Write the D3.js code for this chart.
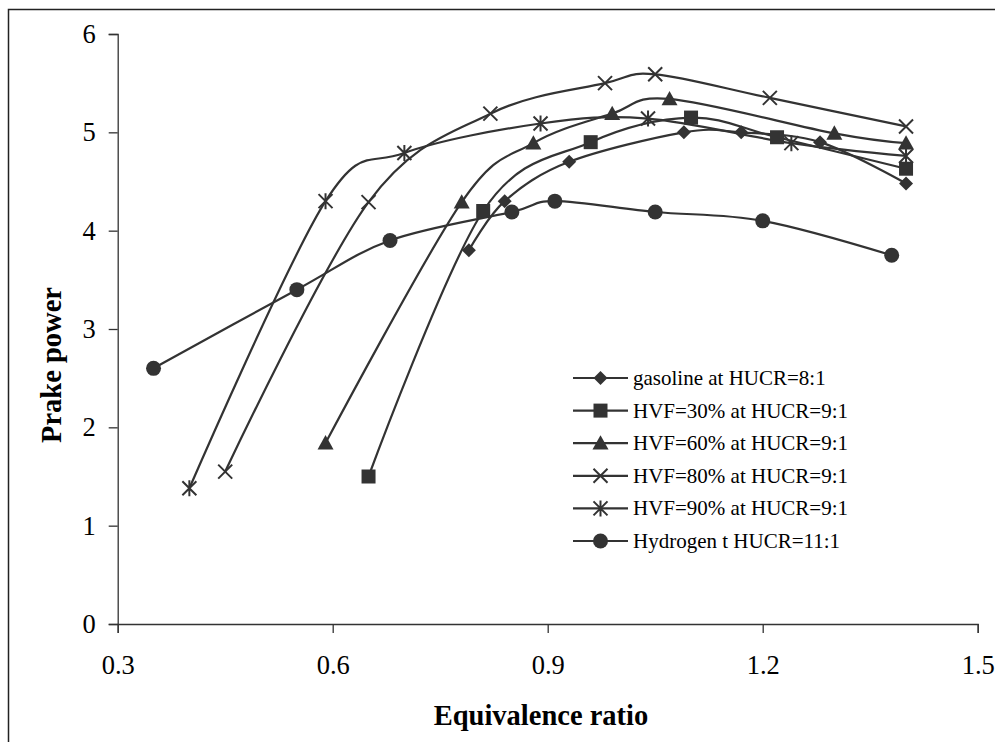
<!DOCTYPE html>
<html><head><meta charset="utf-8">
<script src="https://cdn.jsdelivr.net/npm/d3@7/dist/d3.min.js"></script>
<style>
html,body{margin:0;padding:0;background:#fff;}
svg{display:block;}
text{font-family:"Liberation Serif","Times New Roman",serif;fill:#000;}
</style></head>
<body>
<svg id="chart" width="995" height="742"></svg>
<script>
// ---- data ----
const seriesNames = ["gasoline at HUCR=8:1","HVF=30% at HUCR=9:1","HVF=60% at HUCR=9:1","HVF=80% at HUCR=9:1","HVF=90% at HUCR=9:1","Hydrogen t HUCR=11:1"];
const xGasoline = [0.79,0.84,0.93,1.09,1.17,1.28,1.40];
const yGasoline = [3.80,4.30,4.70,5.00,5.00,4.90,4.48];
const xHVF30 = [0.65,0.81,0.96,1.10,1.22,1.40];
const yHVF30 = [1.50,4.20,4.90,5.15,4.95,4.63];
const xHVF60 = [0.59,0.78,0.88,0.99,1.07,1.30,1.40];
const yHVF60 = [1.84,4.29,4.89,5.19,5.34,4.99,4.89];
const xHVF80 = [0.45,0.65,0.82,0.98,1.05,1.21,1.40];
const yHVF80 = [1.55,4.29,5.19,5.50,5.59,5.35,5.06];
const xHVF90 = [0.40,0.59,0.70,0.89,1.04,1.24,1.40];
const yHVF90 = [1.38,4.30,4.79,5.09,5.14,4.89,4.76];
const xHydrogen = [0.35,0.55,0.68,0.85,0.91,1.05,1.20,1.38];
const yHydrogen = [2.60,3.40,3.90,4.19,4.30,4.19,4.10,3.75];
const xTicks = [0.3,0.6,0.9,1.2,1.5];
const yTicks = [0,1,2,3,4,5,6];
const xTitle = "Equivalence ratio";
const yTitle = "Prake power";

const markerTypes = ["diamond","square","triangle","x","star","circle"];
const seriesX = [xGasoline,xHVF30,xHVF60,xHVF80,xHVF90,xHydrogen];
const seriesY = [yGasoline,yHVF30,yHVF60,yHVF80,yHVF90,yHydrogen];

const col = "#333";
const svg = d3.select("#chart");

// outer frame
svg.append("path").attr("d","M8.5,742 L8.5,9.5 L995,9.5").attr("fill","none").attr("stroke","#222").attr("stroke-width",1.5);

const x = d3.scaleLinear().domain([0.3,1.5]).range([117.7,977.7]);
const y = d3.scaleLinear().domain([0,6]).range([624,34]);

// axes
const gx = svg.append("g").attr("transform","translate(0,624)")
  .call(d3.axisBottom(x).tickValues(xTicks).tickSize(9).tickPadding(22).tickFormat(d3.format(".1f")));
const gy = svg.append("g").attr("transform","translate(117.7,0)")
  .call(d3.axisLeft(y).tickValues(yTicks).tickSize(9).tickPadding(13).tickFormat(d3.format("d")));
[gx,gy].forEach(g=>{
  g.select(".domain").attr("stroke","#333").attr("stroke-width",1.3);
  g.selectAll(".tick line").attr("stroke","#333").attr("stroke-width",1.3);
  g.selectAll(".tick text").attr("font-family","Liberation Serif").attr("font-size",26.5).attr("fill","#000");
});

// titles
svg.append("text").attr("x",541).attr("y",725).attr("text-anchor","middle")
  .attr("font-size",28.5).attr("font-weight","bold").text(xTitle);
svg.append("text").attr("transform","translate(61,365) rotate(-90)").attr("text-anchor","middle")
  .attr("font-size",28.5).attr("font-weight","bold").text(yTitle);

// markers
function drawMarker(g, type, cx, cy){
  if(type==="diamond"){
    const s=7;
    g.append("path").attr("d",`M${cx},${cy-s}L${cx+s},${cy}L${cx},${cy+s}L${cx-s},${cy}Z`).attr("fill",col);
  } else if(type==="square"){
    const s=7;
    g.append("rect").attr("x",cx-s).attr("y",cy-s).attr("width",2*s).attr("height",2*s).attr("fill",col);
  } else if(type==="triangle"){
    const s=8;
    g.append("path").attr("d",`M${cx},${cy-s}L${cx+s},${cy+s*0.8}L${cx-s},${cy+s*0.8}Z`).attr("fill",col);
  } else if(type==="circle"){
    g.append("circle").attr("cx",cx).attr("cy",cy).attr("r",7.5).attr("fill",col);
  } else if(type==="x"){
    const s=7;
    g.append("path").attr("d",`M${cx-s},${cy-s}L${cx+s},${cy+s}M${cx-s},${cy+s}L${cx+s},${cy-s}`).attr("stroke",col).attr("stroke-width",2).attr("fill","none");
  } else if(type==="star"){
    const s=7;
    g.append("path").attr("d",`M${cx-s},${cy-s}L${cx+s},${cy+s}M${cx-s},${cy+s}L${cx+s},${cy-s}M${cx},${cy-s-1}L${cx},${cy+s+1}`).attr("stroke",col).attr("stroke-width",2).attr("fill","none");
  }
}

const line = d3.line().x(d=>x(d[0])).y(d=>y(d[1])).curve(d3.curveCardinal.tension(0));

const plot = svg.append("g");
seriesX.forEach((xs,i)=>{
  const pts = xs.map((v,j)=>[v,seriesY[i][j]]);
  plot.append("path").datum(pts).attr("d",line).attr("fill","none").attr("stroke",col).attr("stroke-width",2.2);
});
seriesX.forEach((xs,i)=>{
  const g = plot.append("g");
  xs.forEach((v,j)=>drawMarker(g, markerTypes[i], x(v), y(seriesY[i][j])));
});

// legend
const leg = svg.append("g");
seriesNames.forEach((name,i)=>{
  const ly = 378 + i*32.6;
  leg.append("line").attr("x1",573).attr("x2",628).attr("y1",ly).attr("y2",ly).attr("stroke",col).attr("stroke-width",2.2);
  drawMarker(leg, markerTypes[i], 600.5, ly);
  leg.append("text").attr("x",633).attr("y",ly+7).attr("font-size",21).text(name);
});
</script>
</body></html>
